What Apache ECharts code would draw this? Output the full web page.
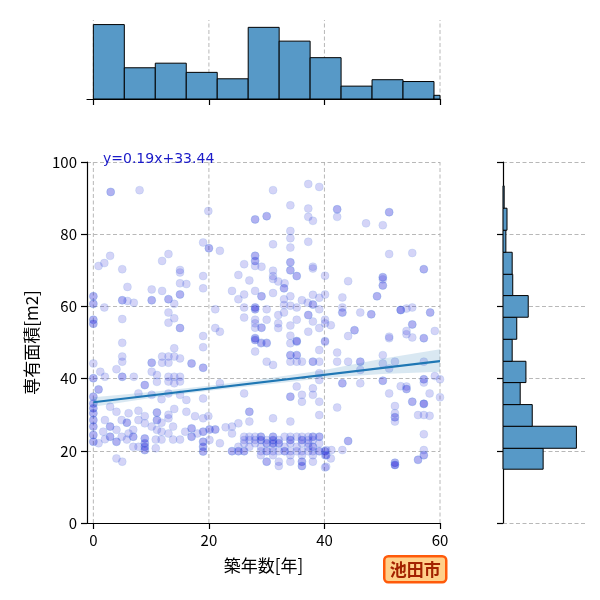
<!DOCTYPE html>
<html>
<head>
<meta charset="utf-8">
<script src="https://cdn.jsdelivr.net/npm/echarts@6/dist/echarts.min.js"></script>
<style>
  html, body { margin: 0; padding: 0; background: #fff; }
  #chart { width: 600px; height: 600px; }
</style>
</head>
<body>
<div id="chart"></div>
<script>
// 築年数 vs 専有面積 (池田市), jointplot with regression
const xTicks = [0, 20, 40, 60];
const regSlope = 0.19;
const regIntercept = 33.44;
const regRange = [0, 60];

// confidence band
const bandX = [0, 10, 20, 30, 40, 50, 60];
const bandLow = [32.2, 34.6, 36.6, 38.4, 40.2, 41.3, 41.9];
const bandHigh = [34.8, 36.3, 38.0, 40.0, 42.4, 45.5, 48.1];

// marginal histograms
const ageBins = [0, 5.36, 10.72, 16.08, 21.44, 26.8, 32.16, 37.52, 42.88, 48.24, 53.6, 58.96, 60];
const ageCounts = [81, 34, 39, 29, 22, 78, 63, 45, 14, 21, 19, 4];
const areaBins = [14.9, 20.7, 26.8, 32.8, 38.9, 44.8, 50.9, 57.0, 63.0, 68.9, 75.0, 81.1, 87.2, 93.4];
const areaCounts = [70, 128, 51, 30, 40, 16, 24, 44, 17, 16, 5, 7, 2];

// scatter points [築年数, 専有面積]
const upperLeft = [
  [3.0,91.7],[3.0,91.7],[8.0,92.2],[19.9,86.4],[19.0,77.7],[20.0,76.1],[20.0,76.1],[2.9,74.0],[1.9,72.0],[0.9,71.2],
  [13.0,74.5],[11.9,72.6],[5.0,70.3],[15.0,70.1],[15.0,69.4],[15.0,66.4],[16.1,66.2],[19.0,68.4],[19.0,65.0],[5.9,65.4],
  [10.1,64.7],[11.9,64.3],[0,62.8],[0,62.8],[0,60.7],[0,60.7],[1.9,59.7],[5.0,61.7],[5.0,61.7],[5.9,61.5],[7.0,61.0],
  [10.1,61.7],[10.1,61.7],[13.0,62.0],[13.0,62.0],[14.0,60.7],[15.0,63.3],[15.0,63.3],[13.0,58.3],[14.0,56.7],[13.0,55.5],
  [15.0,54.0],[15.0,54.0],[0,56.3],[0,56.3],[0,55.2],[0,55.2],[5.0,56.5],[5.0,49.9],[19.0,51.8]
];
const upperMid = [
  [31.1,92.2],[37.2,93.9],[39.1,93.1],[28.0,84.1],[28.0,84.1],[30.0,85.0],[30.0,85.0],[34.1,88.0],[37.2,87.1],[37.2,84.8],
  [38.0,83.7],[34.1,80.9],[34.1,78.9],[37.2,77.9],[31.1,77.2],[34.1,76.3],[21.9,75.4],[28.0,74.0],[28.0,74.0],[28.0,72.6],
  [28.0,72.6],[28.0,71.2],[26.1,71.7],[29.1,71.0],[34.1,72.2],[34.1,72.2],[34.1,70.0],[34.1,70.0],[35.2,68.4],[35.2,68.4],
  [38.0,71.0],[38.0,70.5],[31.1,69.9],[25.1,68.7],[27.0,67.2],[31.1,68.4],[31.1,67.6],[32.0,66.9],[33.1,66.4],[33.0,65.0],
  [33.0,65.0],[40.1,68.5],[24.0,64.3],[26.1,63.3],[28.0,64.3],[29.1,62.8],[29.1,62.8],[31.1,63.7],[25.1,62.0],[34.1,62.8],
  [33.0,62.0],[36.1,61.7],[38.0,63.2],[39.1,62.4],[40.1,63.3],[37.1,61.0],[38.0,60.5],[38.0,60.5],[28.0,59.7],[28.0,59.7],
  [28.0,59.2],[28.0,59.2],[26.1,59.7],[30.0,59.2],[33.0,60.4],[33.0,58.3],[34.1,60.2],[35.2,59.7],[39.1,59.2],[21.1,59.2],
  [32.0,57.6],[37.2,57.6],[37.2,57.6],[26.1,56.9],[30.0,56.3],[28.0,56.3],[28.0,55.3],[28.0,54.1],[35.2,56.3],[38.0,55.8],
  [40.1,56.3],[40.1,55.3],[32.0,55.3],[32.0,54.0],[34.1,54.7],[21.1,54.0],[21.9,53.0],[29.1,54.1],[29.1,54.1],[39.1,54.0],
  [28.0,51.2],[28.0,51.2],[37.2,53.0],[34.1,51.9],[35.2,50.4],[35.2,50.4],[29.1,49.9],[30.0,49.9],[40.1,50.4]
];
const upperRight = [
  [42.2,86.9],[42.2,86.9],[42.2,84.8],[51.2,86.1],[51.2,86.1],[47.2,83.0],[50.1,82.5],[51.2,74.5],[55.2,74.8],[57.2,70.3],
  [57.2,70.3],[50.1,68.1],[50.1,68.1],[50.1,67.5],[50.1,65.8],[50.1,65.8],[44.1,67.0],[43.1,62.5],[49.1,62.8],[49.1,62.8],
  [43.1,59.7],[43.1,58.3],[43.1,58.3],[46.2,58.3],[48.1,57.8],[48.1,57.8],[53.2,59.0],[53.2,59.0],[53.2,59.0],[54.2,59.4],
  [55.2,59.7],[58.3,58.3],[58.3,58.3],[41.1,54.8],[45.2,53.4],[45.2,53.4],[44.1,51.8],[55.2,55.0],[55.2,55.0],[54.2,53.2],
  [54.2,52.3],[59.1,53.2],[51.2,51.6],[51.2,51.2],[55.2,51.4],[57.2,51.2],[57.2,51.2]
];
const lowerLeft = [
  [14.0,48.4],[19.0,48.7],[5.0,46.1],[5.0,44.7],[11.9,46.1],[13.0,46.1],[14.0,46.1],[10.1,44.4],[10.1,44.4],[11.9,44.4],
  [13.0,44.4],[15.0,45.6],[17.0,44.2],[17.0,44.2],[19.0,43.0],[19.0,43.0],[0,44.2],[1.2,41.9],[2.0,40.5],[0,40.1],[0,40.1],
  [4.0,42.6],[5.0,40.5],[5.0,40.5],[7.0,40.5],[10.1,41.9],[11.0,41.0],[11.0,39.1],[8.9,38.2],[8.9,38.2],[13.0,40.5],
  [14.0,40.5],[15.0,40.5],[13.0,39.2],[14.0,38.7],[15.0,39.2],[0.9,37.0],[0.9,37.0],[0,35.0],[0,35.0],[0,33.1],[0,33.1],
  [0,31.8],[0,31.8],[0,30.4],[0,30.4],[0,28.5],[0,28.5],[0,26.7],[0,26.7],[0,24.4],[0,24.4],[0,22.5],[0,22.5],
  [7.8,35.9],[10.1,35.5],[11.8,34.3],[13.0,35.9],[15.0,35.5],[16.1,34.1],[19.0,34.5],[2.9,32.2],[4.0,30.8],[6.1,30.4],
  [7.8,31.1],[11.0,30.6],[11.0,30.6],[13.0,30.0],[14.0,31.6],[16.1,30.8],[17.6,29.6],[19.0,29.0],[19.9,29.6],[2.0,28.5],
  [2.9,26.7],[2.9,26.7],[4.9,28.5],[5.8,27.8],[5.8,27.8],[7.8,28.5],[8.9,29.6],[11.0,28.5],[11.0,28.5],[11.8,27.8],
  [13.0,29.0],[8.9,27.6],[1.7,25.3],[2.9,23.9],[2.9,23.9],[4.0,25.8],[4.9,23.9],[6.1,24.8],[6.9,25.8],[6.9,23.9],[6.9,23.9],
  [10.1,26.7],[11.0,25.8],[11.8,25.3],[13.0,24.8],[0.9,22.1],[2.0,23.2],[4.0,22.5],[4.0,22.5],[5.8,23.1],[6.9,21.1],
  [7.8,21.1],[8.9,23.4],[8.9,23.4],[8.9,22.1],[8.9,22.1],[8.9,21.1],[8.9,21.1],[8.9,20.2],[8.9,20.2],[10.8,23.1],[10.8,20.7],
  [11.8,23.1],[13.8,26.7],[13.8,23.1],[15.0,23.1],[15.9,25.3],[17.0,26.2],[17.0,26.2],[17.0,23.9],[17.0,23.9],[18.0,24.8],
  [19.0,25.3],[19.0,25.3],[19.0,22.5],[19.0,22.5],[19.0,21.1],[19.0,21.1],[19.0,19.8],[19.0,19.8],[4.0,17.9],[5.0,17.0]
];
const lowerMid = [
  [28.0,50.7],[28.0,50.7],[29.0,49.8],[30.0,49.8],[34.1,49.8],[35.2,50.2],[28.0,47.5],[34.1,46.5],[34.1,46.5],[35.2,46.5],
  [35.2,46.5],[34.1,44.7],[35.2,44.7],[30.0,44.7],[31.1,43.8],[36.1,44.7],[38.0,44.7],[38.0,44.7],[39.1,44.7],[39.1,47.9],
  [40.1,50.2],[21.9,38.7],[26.1,35.9],[35.2,37.8],[36.1,35.5],[36.1,33.6],[38.0,37.3],[38.0,35.5],[39.1,39.6],[39.1,41.5],
  [34.1,35.0],[34.1,35.0],[39.1,33.6],[27.0,30.8],[27.0,30.8],[31.1,29.0],[34.1,28.1],[39.1,29.9],[20.1,25.9],[20.1,25.9],
  [21.1,25.9],[21.1,25.9],[22.9,26.5],[24.0,26.7],[25.1,27.6],[27.0,28.1],[24.0,24.8],[21.9,22.1],[20.1,23.0],
  [26.1,23.9],[27.0,23.9],[28.0,23.9],[29.0,23.9],[29.0,23.9],[31.1,23.9],[31.1,23.9],[33.1,23.9],[34.1,23.9],[35.2,23.9],
  [36.1,23.9],[37.2,23.9],[38.0,23.9],[38.0,23.9],[39.1,23.9],[39.1,23.9],
  [26.1,23.0],[27.0,23.0],[28.0,23.0],[29.0,23.0],[29.0,23.0],[30.0,23.0],[31.1,23.0],[31.1,23.0],[32.1,23.0],[34.1,23.0],
  [34.1,23.0],[36.1,23.0],[36.1,23.0],[37.2,23.0],[38.0,23.0],
  [26.1,22.1],[28.0,22.1],[30.0,22.1],[30.0,22.1],[31.1,22.1],[31.1,22.1],[32.1,22.1],[32.1,22.1],[34.1,22.1],[36.1,22.1],
  [37.2,22.1],[39.1,22.1],
  [25.1,21.1],[27.0,21.1],[29.0,21.1],[31.1,21.1],[33.1,21.1],[35.2,21.1],[37.2,21.1],[38.0,21.1],[38.0,21.1],
  [24.0,19.9],[24.0,19.9],[25.1,19.9],[25.1,19.9],[26.1,19.9],[26.1,19.9],[29.0,19.9],[30.0,19.9],[30.0,19.9],[31.1,19.9],
  [32.1,19.9],[33.1,19.9],[33.1,19.9],[34.1,19.9],[35.2,19.9],[36.1,19.9],[37.2,19.9],[38.0,19.9],[39.1,19.9],[39.1,19.9],
  [40.1,19.9],[40.1,19.9],
  [29.0,18.8],[31.1,18.8],[34.1,18.8],[36.1,18.8],[38.0,18.8],[40.1,18.8],
  [30.0,17.0],[30.0,17.0],[32.1,17.0],[34.1,17.0],[36.1,17.0],[36.1,17.0],[38.0,17.0],
  [32.1,15.8],[36.1,15.8],[36.1,15.8],[40.1,15.4]
];
const lowerRight = [
  [42.2,47.2],[42.2,44.7],[44.1,44.7],[46.2,44.7],[46.2,44.7],[46.2,42.4],[50.1,46.5],[50.1,44.2],[51.2,42.8],[52.2,44.7],
  [57.2,44.7],[43.1,38.7],[43.1,38.7],[46.2,38.7],[50.1,39.4],[50.1,39.4],[57.2,39.8],[57.2,39.8],[57.2,38.9],[59.1,40.7],
  [60.0,39.8],[51.2,35.9],[53.2,37.9],[54.2,37.8],[54.2,37.1],[54.2,37.1],[58.2,35.9],[60.0,34.8],[55.2,33.6],[55.2,33.6],
  [57.2,33.0],[57.2,33.0],[57.2,33.0],[42.2,32.0],[52.2,32.4],[52.2,30.4],[52.2,29.3],[52.2,29.3],[52.2,28.1],[56.2,29.9],
  [57.2,29.9],[58.2,29.7],[57.2,24.6],[44.1,22.7],[44.1,22.7],[41.2,20.2],[43.1,20.2],[40.3,20.2],[40.3,18.8],[40.3,18.8],
  [41.1,17.9],[57.2,20.2],[57.2,18.8],[57.2,18.8],[56.2,17.5],[56.2,17.5],[52.2,16.7],[52.2,16.7],[52.2,16.1],[52.2,16.1],
  [52.2,16.1],[40.3,15.6]
];
const points = [].concat(upperLeft, upperMid, upperRight, lowerLeft, lowerMid, lowerRight);

const FONT = 'Noto Sans CJK JP';
const histFill = '#5799c7';
const gridLine = { color: '#b0b0b0', width: 0.9, type: [4, 2.5] };

const chart = echarts.init(document.getElementById('chart'), null, { renderer: 'canvas' });

function vLineSeries(axisIdx, value, top) {
  return {
    type: 'line', xAxisIndex: axisIdx, yAxisIndex: axisIdx, silent: true, symbol: 'none',
    data: [[value, 0], [value, top]], lineStyle: gridLine, z: 0, animation: false
  };
}

const series = [];
// vertical grid lines, main + top marginal
xTicks.forEach(v => {
  series.push(vLineSeries(0, v, 100));
  series.push(vLineSeries(1, v, 86));
});

series.push({
  type: 'scatter', xAxisIndex: 0, yAxisIndex: 0,
  data: points, symbolSize: 8,
  itemStyle: { color: 'rgba(0,0,205,0.21)', borderColor: 'rgba(110,160,225,0.22)', borderWidth: 1 },
  z: 2, animation: false
});

// confidence band
series.push({
  type: 'custom', xAxisIndex: 0, yAxisIndex: 0, silent: true, z: 3,
  data: bandX.map((x, i) => [x, bandLow[i], bandHigh[i]]),
  encode: { x: 0, y: [1, 2] },
  renderItem: function (params, api) {
    if (params.dataIndex !== 0) return;
    const pts = [];
    bandX.forEach((x, i) => pts.push(api.coord([x, bandHigh[i]])));
    for (let i = bandX.length - 1; i >= 0; i--) pts.push(api.coord([bandX[i], bandLow[i]]));
    return { type: 'polygon', shape: { points: pts }, style: { fill: 'rgba(31,119,180,0.17)' } };
  },
  animation: false
});

series.push({
  type: 'line', xAxisIndex: 0, yAxisIndex: 0, symbol: 'none', silent: true, z: 4,
  data: regRange.map(x => [x, regSlope * x + regIntercept]),
  lineStyle: { color: '#1f77b4', width: 2.2 }, animation: false
});

// top histogram
series.push({
  type: 'custom', xAxisIndex: 1, yAxisIndex: 1, silent: true,
  data: ageCounts.map((c, i) => [ageBins[i], ageBins[i + 1], c]),
  encode: { x: [0, 1], y: 2 },
  renderItem: function (params, api) {
    const p0 = api.coord([api.value(0), api.value(2)]);
    const p1 = api.coord([api.value(1), 0]);
    return {
      type: 'rect',
      shape: { x: p0[0], y: p0[1], width: p1[0] - p0[0], height: p1[1] - p0[1] },
      style: { fill: histFill, stroke: '#000', lineWidth: 1 }
    };
  },
  animation: false
});

// right histogram
series.push({
  type: 'custom', xAxisIndex: 2, yAxisIndex: 2, silent: true,
  data: areaCounts.map((c, i) => [areaBins[i], areaBins[i + 1], c]),
  encode: { x: 2, y: [0, 1] },
  renderItem: function (params, api) {
    const p0 = api.coord([api.value(2), api.value(1)]);
    const p1 = api.coord([0, api.value(0)]);
    return {
      type: 'rect',
      shape: { x: p1[0], y: p0[1], width: p0[0] - p1[0], height: p1[1] - p0[1] },
      style: { fill: histFill, stroke: '#000', lineWidth: 1 }
    };
  },
  animation: false
});

const axisLine = { show: true, onZero: false, lineStyle: { color: '#000', width: 1.2 } };
const tick = { show: true, length: 6, lineStyle: { color: '#000', width: 1.2 } };

chart.setOption({
  animation: false,
  textStyle: { fontFamily: FONT },
  grid: [
    { left: 87, top: 162, width: 353, height: 361 },
    { left: 87, top: 20, width: 353, height: 79 },
    { left: 503, top: 162, width: 82, height: 361 }
  ],
  xAxis: [
    {
      gridIndex: 0, type: 'value', min: -1.1, max: 60,
      axisLine: axisLine,
      axisTick: Object.assign({ customValues: xTicks }, tick),
      axisLabel: { customValues: xTicks, fontSize: 15, color: '#000', margin: 10, fontFamily: FONT },
      splitLine: { show: false },
      name: '築年数[年]', nameLocation: 'middle', nameGap: 34,
      nameTextStyle: { fontSize: 17, color: '#000', fontFamily: FONT }
    },
    {
      gridIndex: 1, type: 'value', min: -1.1, max: 60,
      axisLine: axisLine,
      axisTick: Object.assign({ customValues: xTicks }, tick),
      axisLabel: { show: false, customValues: xTicks },
      splitLine: { show: false }
    },
    { gridIndex: 2, type: 'value', min: 0, max: 143, show: false, splitLine: { show: false } }
  ],
  yAxis: [
    {
      gridIndex: 0, type: 'value', min: 0, max: 100, interval: 20,
      axisLine: axisLine, axisTick: tick,
      axisLabel: { fontSize: 15, color: '#000', margin: 10, fontFamily: FONT },
      splitLine: { show: true, lineStyle: gridLine },
      name: '専有面積[m2]', nameLocation: 'middle', nameGap: 47, nameRotate: 90,
      nameTextStyle: { fontSize: 17, color: '#000', fontFamily: FONT }
    },
    { gridIndex: 1, type: 'value', min: 0, max: 86, show: false, splitLine: { show: false } },
    {
      gridIndex: 2, type: 'value', min: 0, max: 100, interval: 20,
      axisLine: axisLine, axisTick: tick,
      axisLabel: { show: false },
      splitLine: { show: true, lineStyle: gridLine }
    }
  ],
  graphic: [
    {
      type: 'text', left: 103, top: 152, z: 10,
      style: { text: 'y=' + regSlope + 'x+' + regIntercept, fill: '#1a1ac8', fontSize: 14, fontFamily: 'DejaVu Sans' }
    },
    {
      type: 'group', left: 383, top: 555, z: 10,
      children: [
        { type: 'rect', shape: { x: 0, y: 0, width: 62, height: 26, r: 4 },
          style: { fill: '#ffd08a', stroke: '#ff5a0a', lineWidth: 2.5 } },
        { type: 'text', x: 31, y: 13,
          style: { text: '池田市', fill: '#a32100', fontSize: 17, fontWeight: 'bold',
                   fontFamily: FONT, align: 'center', verticalAlign: 'middle' } }
      ]
    }
  ],
  series: series
});
</script>
</body>
</html>
